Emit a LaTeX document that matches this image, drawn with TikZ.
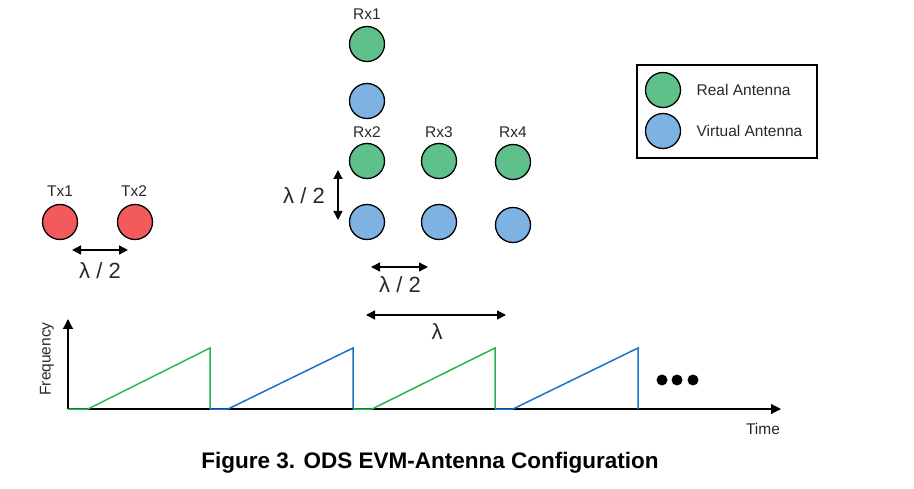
\documentclass[tikz,border=0pt]{standalone}
\usepackage{fontspec}
\setmainfont{Liberation Sans}
\usepackage{xcolor}
\usetikzlibrary{arrows.meta,positioning}

\definecolor{antgreen}{RGB}{96,192,139}
\definecolor{antblue}{RGB}{125,178,226}
\definecolor{antred}{RGB}{242,90,92}
\definecolor{chirpgreen}{RGB}{40,180,80}
\definecolor{chirpblue}{RGB}{25,115,205}
\definecolor{txtgray}{RGB}{40,40,40}

\begin{document}
\begin{tikzpicture}[x=1pt, y=-1pt,
  ant/.style={circle, draw=black, line width=1.3pt, minimum size=35pt, inner sep=0pt},
  real/.style={ant, fill=antgreen},
  virt/.style={ant, fill=antblue},
  tx/.style={ant, fill=antred},
  lbl/.style={font=\fontsize{15.5}{18}\selectfont, text=txtgray},
  dim/.style={font=\fontsize{22}{26}\selectfont, text=txtgray},
  dimarr/.style={{Triangle[length=9pt,width=9pt]}-{Triangle[length=9pt,width=9pt]}, line width=1.3pt},
  chirp/.style={line width=1.5pt, line join=miter}
]
\useasboundingbox (0,0) rectangle (914,489);

% Transmit antennas
\node[tx] (tx1) at (60, 222)  {};
\node[tx] (tx2) at (135, 222) {};
\node[lbl] at (60, 191)  {Tx1};
\node[lbl] at (134, 191) {Tx2};
\coordinate (txa) at (72, 250);
\coordinate (txb) at (128, 250);
\draw[dimarr] (txa) -- (txb);
\node[dim] at (100, 271) {λ / 2};

% Receive antennas (real and virtual)
\node[real] (rx1) at (367, 44)  {};
\node[virt] (rx1v) at (367, 101) {};
\node[real] (rx2) at (367, 161) {};
\node[real] (rx3) at (439, 161) {};
\node[real] (rx4) at (513, 162) {};
\node[virt] (rx2v) at (367, 222) {};
\node[virt] (rx3v) at (439, 222) {};
\node[virt] (rx4v) at (513, 225) {};
\node[lbl] at (367, 14)  {Rx1};
\node[lbl] at (367, 132) {Rx2};
\node[lbl] at (439, 132) {Rx3};
\node[lbl] at (513, 132) {Rx4};

% Spacings
\coordinate (va) at (338, 170);
\coordinate (vb) at (338, 220);
\draw[dimarr] (va) -- (vb);
\node[dim] at (304, 196) {λ / 2};
\coordinate (ha) at (371, 267);
\coordinate (hb) at (428, 267);
\draw[dimarr] (ha) -- (hb);
\node[dim] at (400, 285) {λ / 2};
\coordinate (la) at (366, 315);
\coordinate (lb) at (506, 315);
\draw[dimarr] (la) -- (lb);
\node[dim] at (437, 332) {λ};

% Legend
\draw[line width=2pt] (637, 65) rectangle (817, 158);
\node[real] (legr) at (663, 90)  {};
\node[virt] (legv) at (663, 131) {};
\node[lbl, right=12pt of legr] {Real Antenna};
\node[lbl, right=12pt of legv] {Virtual Antenna};

% Chirp axes
\coordinate (o) at (68, 409);
\coordinate (ytip) at (68, 319);
\coordinate (xtip) at (781, 409);
\draw[line width=1.3pt, -{Triangle[length=10pt,width=10pt]}] (o) -- (ytip);
\draw[line width=1.3pt, -{Triangle[length=10pt,width=10pt]}] (o) -- (xtip);
\node[lbl, rotate=90] at (47, 359) {Frequency};
\node[lbl] at (763, 429) {Time};

% Chirps
\draw[chirp, chirpgreen] (68,409) -- (88,409) -- (210,348) -- (210,409);
\draw[chirp, chirpblue] (210,409) -- (228,409) -- (353,348) -- (353,409);
\draw[chirp, chirpgreen] (353,409) -- (372,409) -- (495,348) -- (495,409);
\draw[chirp, chirpblue] (495,409) -- (513,409) -- (638,348) -- (638,409);
\foreach \x in {662,677,693}
  \fill (\x, 380) circle (5.5pt);

% Caption
\node[font=\fontsize{22.5}{26}\selectfont\bfseries] at (430, 463) {Figure 3. ODS EVM-Antenna Configuration};
\end{tikzpicture}
\end{document}
